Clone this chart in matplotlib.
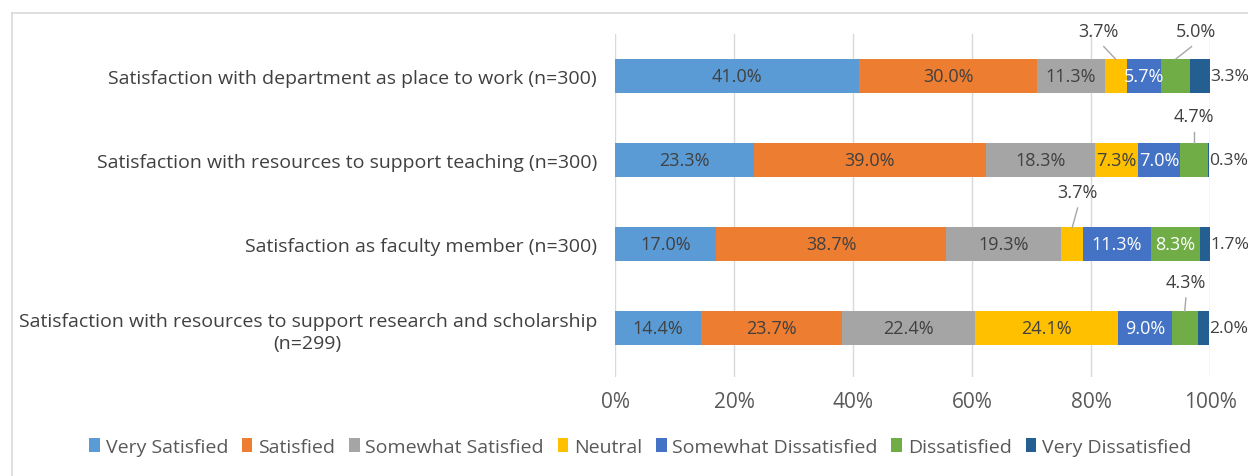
import matplotlib
matplotlib.use("Agg")
import matplotlib.pyplot as plt
from matplotlib.lines import Line2D
import numpy as np

plt.rcParams['font.family'] = ['Open Sans', 'DejaVu Sans']

categories = [
    "Satisfaction with department as place to work (n=300)",
    "Satisfaction with resources to support teaching (n=300)",
    "Satisfaction as faculty member (n=300)",
    "Satisfaction with resources to support research and scholarship\n(n=299)",
]
series_names = ["Very Satisfied", "Satisfied", "Somewhat Satisfied", "Neutral",
                "Somewhat Dissatisfied", "Dissatisfied", "Very Dissatisfied"]
very_satisfied = [41.0, 23.3, 17.0, 14.4]
satisfied = [30.0, 39.0, 38.7, 23.7]
somewhat_satisfied = [11.3, 18.3, 19.3, 22.4]
neutral = [3.7, 7.3, 3.7, 24.1]
somewhat_dissatisfied = [5.7, 7.0, 11.3, 9.0]
dissatisfied = [5.0, 4.7, 8.3, 4.3]
very_dissatisfied = [3.3, 0.3, 1.7, 2.0]
x_ticks = [0, 20, 40, 60, 80, 100]
x_tick_labels = ["0%", "20%", "40%", "60%", "80%", "100%"]

series = [very_satisfied, satisfied, somewhat_satisfied, neutral,
          somewhat_dissatisfied, dissatisfied, very_dissatisfied]
colors = ["#5B9BD5", "#ED7D31", "#A5A5A5", "#FFC000", "#4472C4", "#70AD47", "#255E91"]
text_colors = ["#404040", "#404040", "#404040", "#404040", "#FFFFFF", "#FFFFFF", "#404040"]

fig = plt.figure(figsize=(12.48, 4.77), dpi=100)
ax = fig.add_axes([615/1248, 1-378/477, 595/1248, 343/477])

y = np.arange(len(categories))
left = np.zeros(len(categories))
fs = 13
label_col = "#404040"

outside_above = {(3, 0): (-2.9, -0.54), (5, 0): (3.4, -0.54),
                 (5, 1): (0.0, -0.52), (3, 2): (0.9, -0.62),
                 (5, 3): (0.2, -0.55)}

for si, (vals, col) in enumerate(zip(series, colors)):
    vals = np.array(vals)
    ax.barh(y, vals, left=left, height=0.405, color=col, label=series_names[si], zorder=3)
    for ri, v in enumerate(vals):
        cx = left[ri] + v / 2
        txt = f"{v:.1f}%"
        if si == 6:
            ax.text(left[ri] + v, y[ri], txt, ha='left', va='center',
                    fontsize=12.6, color=label_col, zorder=5)
        elif (si, ri) in outside_above:
            dx, dy = outside_above[(si, ri)]
            tx, ty = cx + dx, y[ri] + dy
            ax.text(tx, ty, txt, ha='center', va='center', fontsize=fs,
                    color=label_col, zorder=5)
            ax.plot([tx + (0 if abs(dx) < 1 else (0.9 if dx < 0 else -0.7)), cx],
                    [ty + 0.19, y[ri] - 0.2], color="#A6A6A6", lw=1, zorder=4,
                    clip_on=False)
        else:
            ax.text(cx, y[ri], txt, ha='center', va='center', fontsize=fs,
                    color=text_colors[si], zorder=5)
    left += vals

ax.set_xlim(0, 100)
ax.set_ylim(3.58, -0.5)
ax.set_xticks(x_ticks)
ax.set_xticklabels(x_tick_labels, fontsize=15, color="#595959")
ax.set_yticks(y)
ax.set_yticklabels(categories, fontsize=14, color="#404040", multialignment='center',
                   linespacing=1.3)
ax.tick_params(axis='both', length=0)
ax.tick_params(axis='y', pad=13)
ax.tick_params(axis='x', pad=10)
ax.grid(axis='x', color="#D9D9D9", lw=1, zorder=0)
for s in ax.spines.values():
    s.set_visible(False)

fig.legend(loc='center', bbox_to_anchor=(0.513, 0.061), ncol=7, frameon=False,
           fontsize=14, handlelength=0.55, handleheight=0.75, handletextpad=0.3,
           columnspacing=0.7, labelcolor="#595959")

fig.add_artist(Line2D([12/1248, 1.0], [1-14/477, 1-14/477], color="#D9D9D9", lw=1.2,
                      transform=fig.transFigure))
fig.add_artist(Line2D([12/1248, 12/1248], [0, 1-14/477], color="#D9D9D9", lw=1.2,
                      transform=fig.transFigure))

fig.savefig("out.png", dpi=100)
